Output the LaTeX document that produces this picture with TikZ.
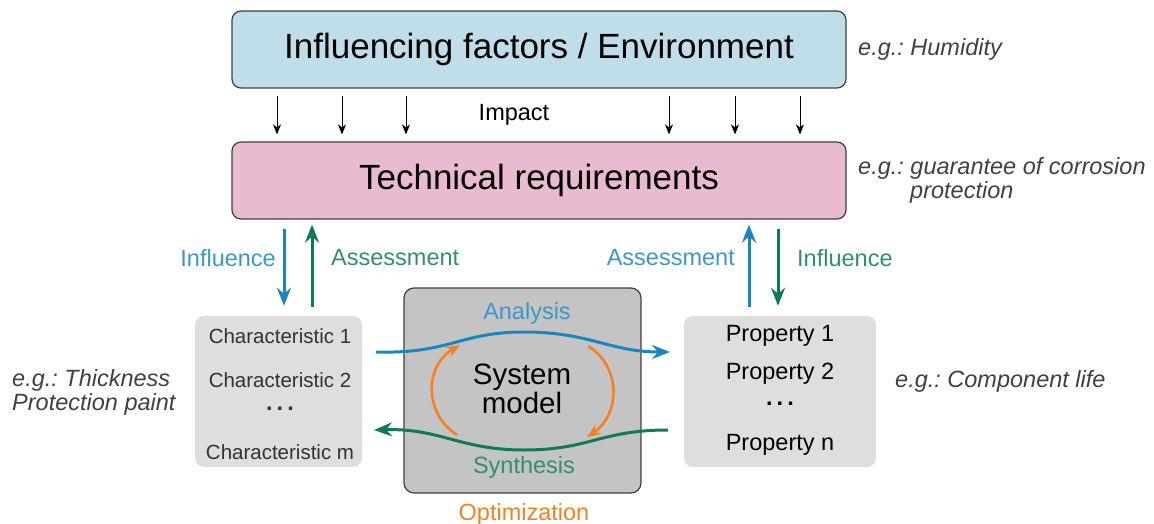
\documentclass[tikz,border=0pt]{standalone}
\usepackage{xcolor}
\usepackage{fontspec}
\setmainfont{Liberation Sans}
\usetikzlibrary{arrows.meta}
\frenchspacing

\definecolor{envblue}{HTML}{BFDEEA}
\definecolor{reqpink}{HTML}{E9BBD0}
\definecolor{listgray}{HTML}{DEDEDE}
\definecolor{modelgray}{HTML}{C4C4C4}
\definecolor{flowblue}{HTML}{1A86C0}
\definecolor{flowgreen}{HTML}{0E7A58}
\definecolor{optorange}{HTML}{F58020}
\definecolor{notegray}{HTML}{404040}

\newcommand{\vdotsrow}{\textbf{.\hspace{4pt}.\hspace{4pt}.}}

\begin{document}
\begin{tikzpicture}[x=1pt,y=-1pt,
        bigbox/.style={draw=black!75,line width=1.2pt,rounded corners=9pt,minimum width=614pt,minimum height=77pt,font=\fontsize{35}{42}\selectfont},
        listbox/.style={fill=listgray,rounded corners=9pt,minimum height=151pt},
        item/.style={inner sep=0pt,font=\fontsize{23.5}{28}\selectfont},
        note/.style={inner sep=0pt,anchor=west,text=notegray,align=left,font=\fontsize{23.5}{24}\selectfont\itshape},
        label/.style={inner sep=0pt,font=\fontsize{23.5}{28}\selectfont},
        impact/.style={-{Stealth[length=10pt,width=8pt,inset=3pt]},line width=1pt,shorten <=7pt,shorten >=7pt},
        flow/.style={-{Stealth[length=18pt,width=14pt,inset=6pt]},line width=3pt}
    ]
    \useasboundingbox (0,0) rectangle (1154,524);

    %--- boxes ---
    \node[bigbox,fill=envblue] (env) at (539,49.5) {Influencing factors / Environment};
    \node[bigbox,fill=reqpink] (req) at (539,180.5) {Technical requirements};
    \node[listbox,minimum width=167pt] (chars) at (278.5,391.5) {};
    \node[listbox,minimum width=192pt] (props) at (780,391.5) {};
    \node[draw=black!75,line width=1.2pt,fill=modelgray,rounded corners=10pt,minimum width=237pt,minimum height=205pt] (model) at (522.5,390.5) {};

    %--- box contents ---
    \node[item,text=black!80,font=\fontsize{20.5}{24}\selectfont] (c1) at (280,336) {Characteristic 1};
    \node[item,text=black!80,font=\fontsize{20.5}{24}\selectfont] (c2) at (280,380) {Characteristic 2};
    \node[item,text=black!80] (cdots) at (280,409) {\vdotsrow};
    \node[item,text=black!80,font=\fontsize{20.5}{24}\selectfont] (cm) at (280,452) {Characteristic m};
    \node[item] (p1) at (780,336) {Property 1};
    \node[item] (p2) at (780,374) {Property 2};
    \node[item] (pdots) at (780,404) {\vdotsrow};
    \node[item] (pn) at (780,445) {Property n};
    \node[inner sep=0pt,align=center,font=\fontsize{29.5}{29}\selectfont] (sys) at (522,389) {System\\model};

    %--- notes ---
    \node[note] (n1) at (858,49) {e.g.: Humidity};
    \node[note] (n2) at (858,180) {e.g.: guarantee of corrosion\\\hspace{52pt}protection};
    \node[note] (n3) at (895,381) {e.g.: Component life};
    \node[note] (n4) at (12,392) {e.g.: Thickness\\Protection paint};

    %--- impact ---
    \foreach \x in {277,342,406,669,735,800}
        \draw[impact] (\x,0 |- env.south) -- (\x,0 |- req.north);
    \node[label] (imp) at (514,115) {Impact};

    %--- influence / assessment ---
    \draw[flow,flowblue,shorten <=9pt,shorten >=10pt] (284,0 |- req.south) -- (284,0 |- chars.north);
    \draw[flow,flowgreen,shorten <=9pt,shorten >=5pt] (312,0 |- chars.north) -- (312,0 |- req.south);
    \draw[flow,flowblue,shorten <=9pt,shorten >=5pt] (749,0 |- props.north) -- (749,0 |- req.south);
    \draw[flow,flowgreen,shorten <=9pt,shorten >=10pt] (778,0 |- req.south) -- (778,0 |- props.north);
    \node[label,text=flowblue!85,anchor=east] (inf1) at (276,258) {Influence};
    \node[label,text=flowgreen!85,anchor=west] (ass1) at (331,258) {Assessment};
    \node[label,text=flowblue!85,anchor=east] (ass2) at (735,258) {Assessment};
    \node[label,text=flowgreen!85,anchor=west] (inf2) at (797,258) {Influence};

    %--- analysis / synthesis ---
    \coordinate (anin) at (376,352);
    \coordinate (anout) at (670,352);
    \coordinate (synin) at (668,430);
    \coordinate (synout) at (374,430);
    \draw[flow,flowblue] (anin) .. controls (450,354) and (460,332) .. (524,332)
        .. controls (590,332) and (610,352) .. (anout);
    \draw[flow,flowgreen] (synin) .. controls (600,430) and (590,450) .. (524,450)
        .. controls (460,450) and (440,428) .. (synout);
    \node[label,text=flowblue!85] (ana) at (527,313) {Analysis};
    \node[label,text=flowgreen!85] (syn) at (524,467) {Synthesis};

    %--- optimization ---
    \draw[flow,optorange,line width=2.6pt,-{Stealth[length=14pt,width=11pt,inset=5pt]}] (457,435) .. controls (424,414) and (424,366) .. (460,345);
    \draw[flow,optorange,line width=2.6pt,-{Stealth[length=14pt,width=11pt,inset=5pt]}] (588,346) .. controls (621,366) and (621,414) .. (587,437);
    \node[label,text=optorange] (opt) at (524,514) {Optimization};
\end{tikzpicture}
\end{document}
